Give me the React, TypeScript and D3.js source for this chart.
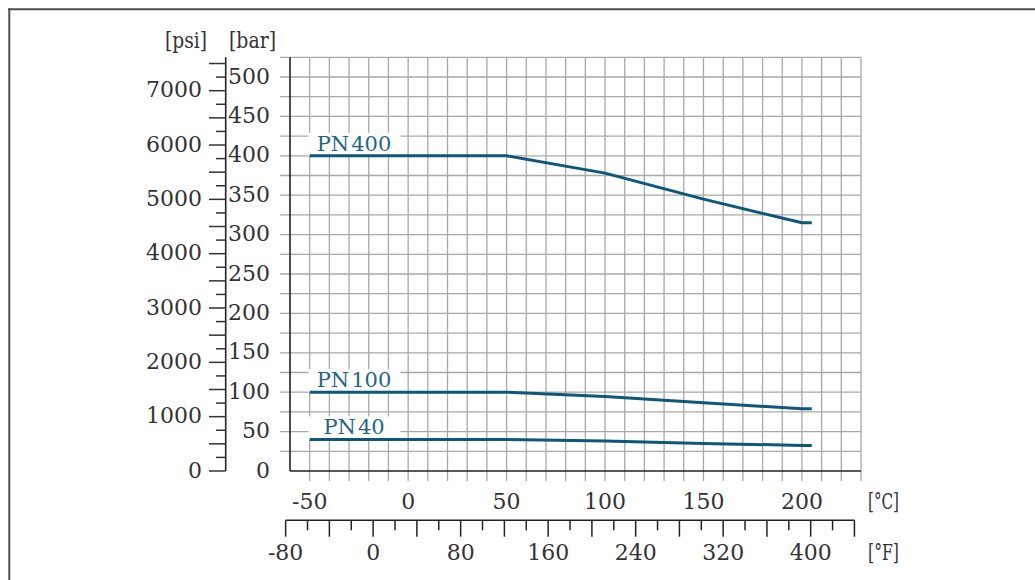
import React from "react";
import * as d3 from "d3";

const tempC = [-50, 50, 100, 150, 200, 205];
const pn400 = [400, 400, 378, 345, 315, 315];
const pn100 = [100, 100, 94.5, 86.5, 79, 79];
const pn40 = [40, 40, 38, 35, 32.5, 32.5];
const seriesNames = ["PN 400", "PN 100", "PN 40"];

const barTicks = [0, 50, 100, 150, 200, 250, 300, 350, 400, 450, 500];
const psiLabels = [0, 1000, 2000, 3000, 4000, 5000, 6000, 7000];
const celsiusLabels = [-50, 0, 50, 100, 150, 200];
const fahrenheitLabels = [-80, 0, 80, 160, 240, 320, 400];

const PSI_PER_BAR = 14.5038;
const FONT = "'DejaVu Serif', serif";
const TEXT = "#333333";
const GRID = "#a8a8a8";
const LINE = "#0b5878";
const LABEL = "#1f6685";
const FS = 22;

export default function App() {
  const x = d3.scaleLinear().domain([-60, 230]).range([290, 861]);
  const y = d3.scaleLinear().domain([0, 525]).range([471, 57.3]);
  const xF = (f: number) => x(((f - 32) * 5) / 9);
  const yPsi = (p: number) => y(p / PSI_PER_BAR);

  const hGrid = d3.range(25, 526, 25);
  const vGrid = d3.range(-50, 231, 10);
  const psiTicks = d3.range(0, 7501, 250);
  const fTicks = d3.range(-80, 441, 20);

  const line = d3
    .line<number>()
    .x((_, i) => x(tempC[i]))
    .y((d) => y(d));

  const series = [pn400, pn100, pn40];

  return (
    <svg
      width={1035}
      height={580}
      style={{ position: "absolute", left: 0, top: 0, display: "block", background: "#fff" }}
      fontFamily={FONT}
    >
      {/* frame */}
      <line x1={8.3} x2={1035} y1={9.3} y2={9.3} stroke="#4d4d4d" strokeWidth={2} />
      <line x1={9.3} x2={9.3} y1={8.3} y2={580} stroke="#4d4d4d" strokeWidth={2} />

      {/* horizontal grid */}
      {hGrid.map((v) => (
        <line key={"h" + v} x1={280} x2={x(230)} y1={y(v)} y2={y(v)} stroke={GRID} strokeWidth={1.3} />
      ))}
      {/* vertical grid */}
      {vGrid.map((v) => (
        <line key={"v" + v} x1={x(v)} x2={x(v)} y1={y(525)} y2={481} stroke={GRID} strokeWidth={1.3} />
      ))}
      {/* plot frame */}
      <line x1={x(-60)} x2={x(-60)} y1={y(525)} y2={y(0)} stroke="#222" strokeWidth={1.6} />
      <line x1={x(-60)} x2={x(230)} y1={y(0)} y2={y(0)} stroke="#222" strokeWidth={1.6} />

      {/* bar labels */}
      {barTicks.map((v) => (
        <text key={"b" + v} x={270} y={y(v) + 6.5} textAnchor="end" fontSize={FS} fill={TEXT}>
          {v}
        </text>
      ))}
      <text x={229} y={48} fontSize={FS} fill={TEXT} textLength={47} lengthAdjust="spacingAndGlyphs">[bar]</text>

      {/* psi axis */}
      <line x1={225.7} x2={225.7} y1={y(525)} y2={y(0)} stroke="#222" strokeWidth={1.6} />
      {psiTicks.map((p) => (
        <line
          key={"p" + p}
          x1={p % 500 === 0 ? 209 : 216}
          x2={225.7}
          y1={yPsi(p)}
          y2={yPsi(p)}
          stroke="#333"
          strokeWidth={1.5}
        />
      ))}
      {psiLabels.map((p) => (
        <text key={"pl" + p} x={202} y={yPsi(p) + 6.5} textAnchor="end" fontSize={FS} fill={TEXT}>
          {p}
        </text>
      ))}
      <text x={165} y={48} fontSize={FS} fill={TEXT} textLength={42} lengthAdjust="spacingAndGlyphs">[psi]</text>

      {/* celsius labels */}
      {celsiusLabels.map((c) => (
        <text key={"c" + c} x={x(c)} y={508.5} textAnchor="middle" fontSize={FS} fill={TEXT}>
          {c}
        </text>
      ))}
      <text x={868} y={508.5} fontSize={FS} fill={TEXT} textLength={31} lengthAdjust="spacingAndGlyphs">[°C]</text>

      {/* fahrenheit axis */}
      <line x1={xF(-80)} x2={xF(440)} y1={520.3} y2={520.3} stroke="#222" strokeWidth={1.5} />
      {fTicks.map((f) => (
        <line
          key={"f" + f}
          x1={xF(f)}
          x2={xF(f)}
          y1={520.3}
          y2={f % 40 === 0 ? 536.7 : 530.3}
          stroke="#222"
          strokeWidth={1.5}
        />
      ))}
      {fahrenheitLabels.map((f) => (
        <text key={"fl" + f} x={xF(f)} y={559.5} textAnchor="middle" fontSize={FS} fill={TEXT}>
          {f}
        </text>
      ))}
      <text x={868} y={559.5} fontSize={FS} fill={TEXT} textLength={31} lengthAdjust="spacingAndGlyphs">[°F]</text>

      {/* label boxes */}
      {series.map((s, i) => (
        <rect key={"box" + i} x={308.5} y={y(s[0]) - 23} width={92} height={23} fill="#fff" />
      ))}

      {/* series lines */}
      {series.map((s, i) => (
        <path
          key={"s" + i}
          d={line(s) || ""}
          fill="none"
          stroke={LINE}
          strokeWidth={3}
          strokeLinejoin="round"
        />
      ))}

      {/* series labels */}
      {series.map((s, i) => {
        const [a, b] = seriesNames[i].split(" ");
        return (
          <text key={"l" + i} x={354} y={y(s[0]) - 5} textAnchor="middle" fontSize={21} fill={LABEL}>
            {a}
            <tspan dx={2}>{b}</tspan>
          </text>
        );
      })}
    </svg>
  );
}
